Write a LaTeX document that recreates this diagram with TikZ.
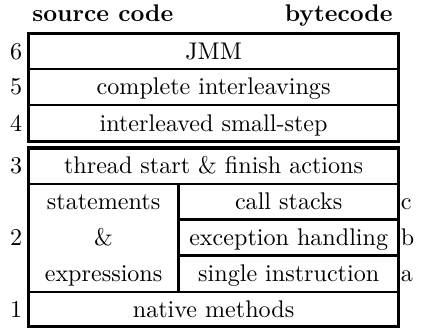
\documentclass[tikz,border=0pt]{standalone}
\usepackage{amsmath}
\usepackage{amssymb}
\usepackage{tikz}

\begin{document}
\begin{tikzpicture}[x=0.4545pt,y=-0.4545pt,
  txt/.style={anchor=base,inner sep=0,font=\fontsize{10.95pt}{13.6pt}\selectfont},
  outer/.style={line width=1.6pt},
  inner/.style={line width=1.1pt}]
\useasboundingbox (0,0) rectangle (421,328);
% column heads
\node[txt,anchor=base west] (src) at (32,21.7) {\textbf{source code}};
\node[txt,anchor=base east] (byte) at (393,21.7) {\textbf{bytecode}};
% upper block: 6 5 4
\draw[outer] (28.5,33.3) rectangle (398.7,141.5);
\draw[inner] (28.5,69) -- (398.7,69);
\draw[inner] (28.5,105) -- (398.7,105);
\node[txt] (jmm) at (213.6,59) {JMM};
\node[txt] (compl) at (213.6,94.8) {complete interleavings};
\node[txt] (small) at (213.6,131) {interleaved small-step};
% lower block: 3 2 1
\draw[outer] (28.5,148) rectangle (398.7,326.5);
\draw[inner] (28.5,184) -- (398.7,184);
\draw[inner] (28.5,292) -- (398.7,292);
\draw[inner] (178.7,184) -- (178.7,292);
\draw[inner] (178.7,219.7) -- (398.7,219.7);
\draw[inner] (178.7,255.7) -- (398.7,255.7);
\node[txt] (thread) at (213.6,173.8) {thread start \& finish actions};
\node[txt] (stmt) at (103.6,209.7) {statements};
\node[txt] (amp) at (103.6,245.5) {\&};
\node[txt] (expr) at (103.6,281.7) {expressions};
\node[txt] (calls) at (288.7,209.7) {call stacks};
\node[txt] (exc) at (288.7,245.5) {exception handling};
\node[txt] (single) at (288.7,281.7) {single instruction};
\node[txt] (native) at (213.6,317) {native methods};
% level numbers
\node[txt,anchor=base east] (n6) at (22.5,59) {6};
\node[txt,anchor=base east] (n5) at (22.5,94.8) {5};
\node[txt,anchor=base east] (n4) at (22.5,131) {4};
\node[txt,anchor=base east] (n3) at (22.5,173.8) {3};
\node[txt,anchor=base east] (n2) at (22.5,245.5) {2};
\node[txt,anchor=base east] (n1) at (22.5,317) {1};
% sub-levels
\node[txt,anchor=base west] (lc) at (400.5,209.7) {c};
\node[txt,anchor=base west] (lb) at (400.5,245.5) {b};
\node[txt,anchor=base west] (la) at (400.5,281.7) {a};
\end{tikzpicture}
\end{document}
